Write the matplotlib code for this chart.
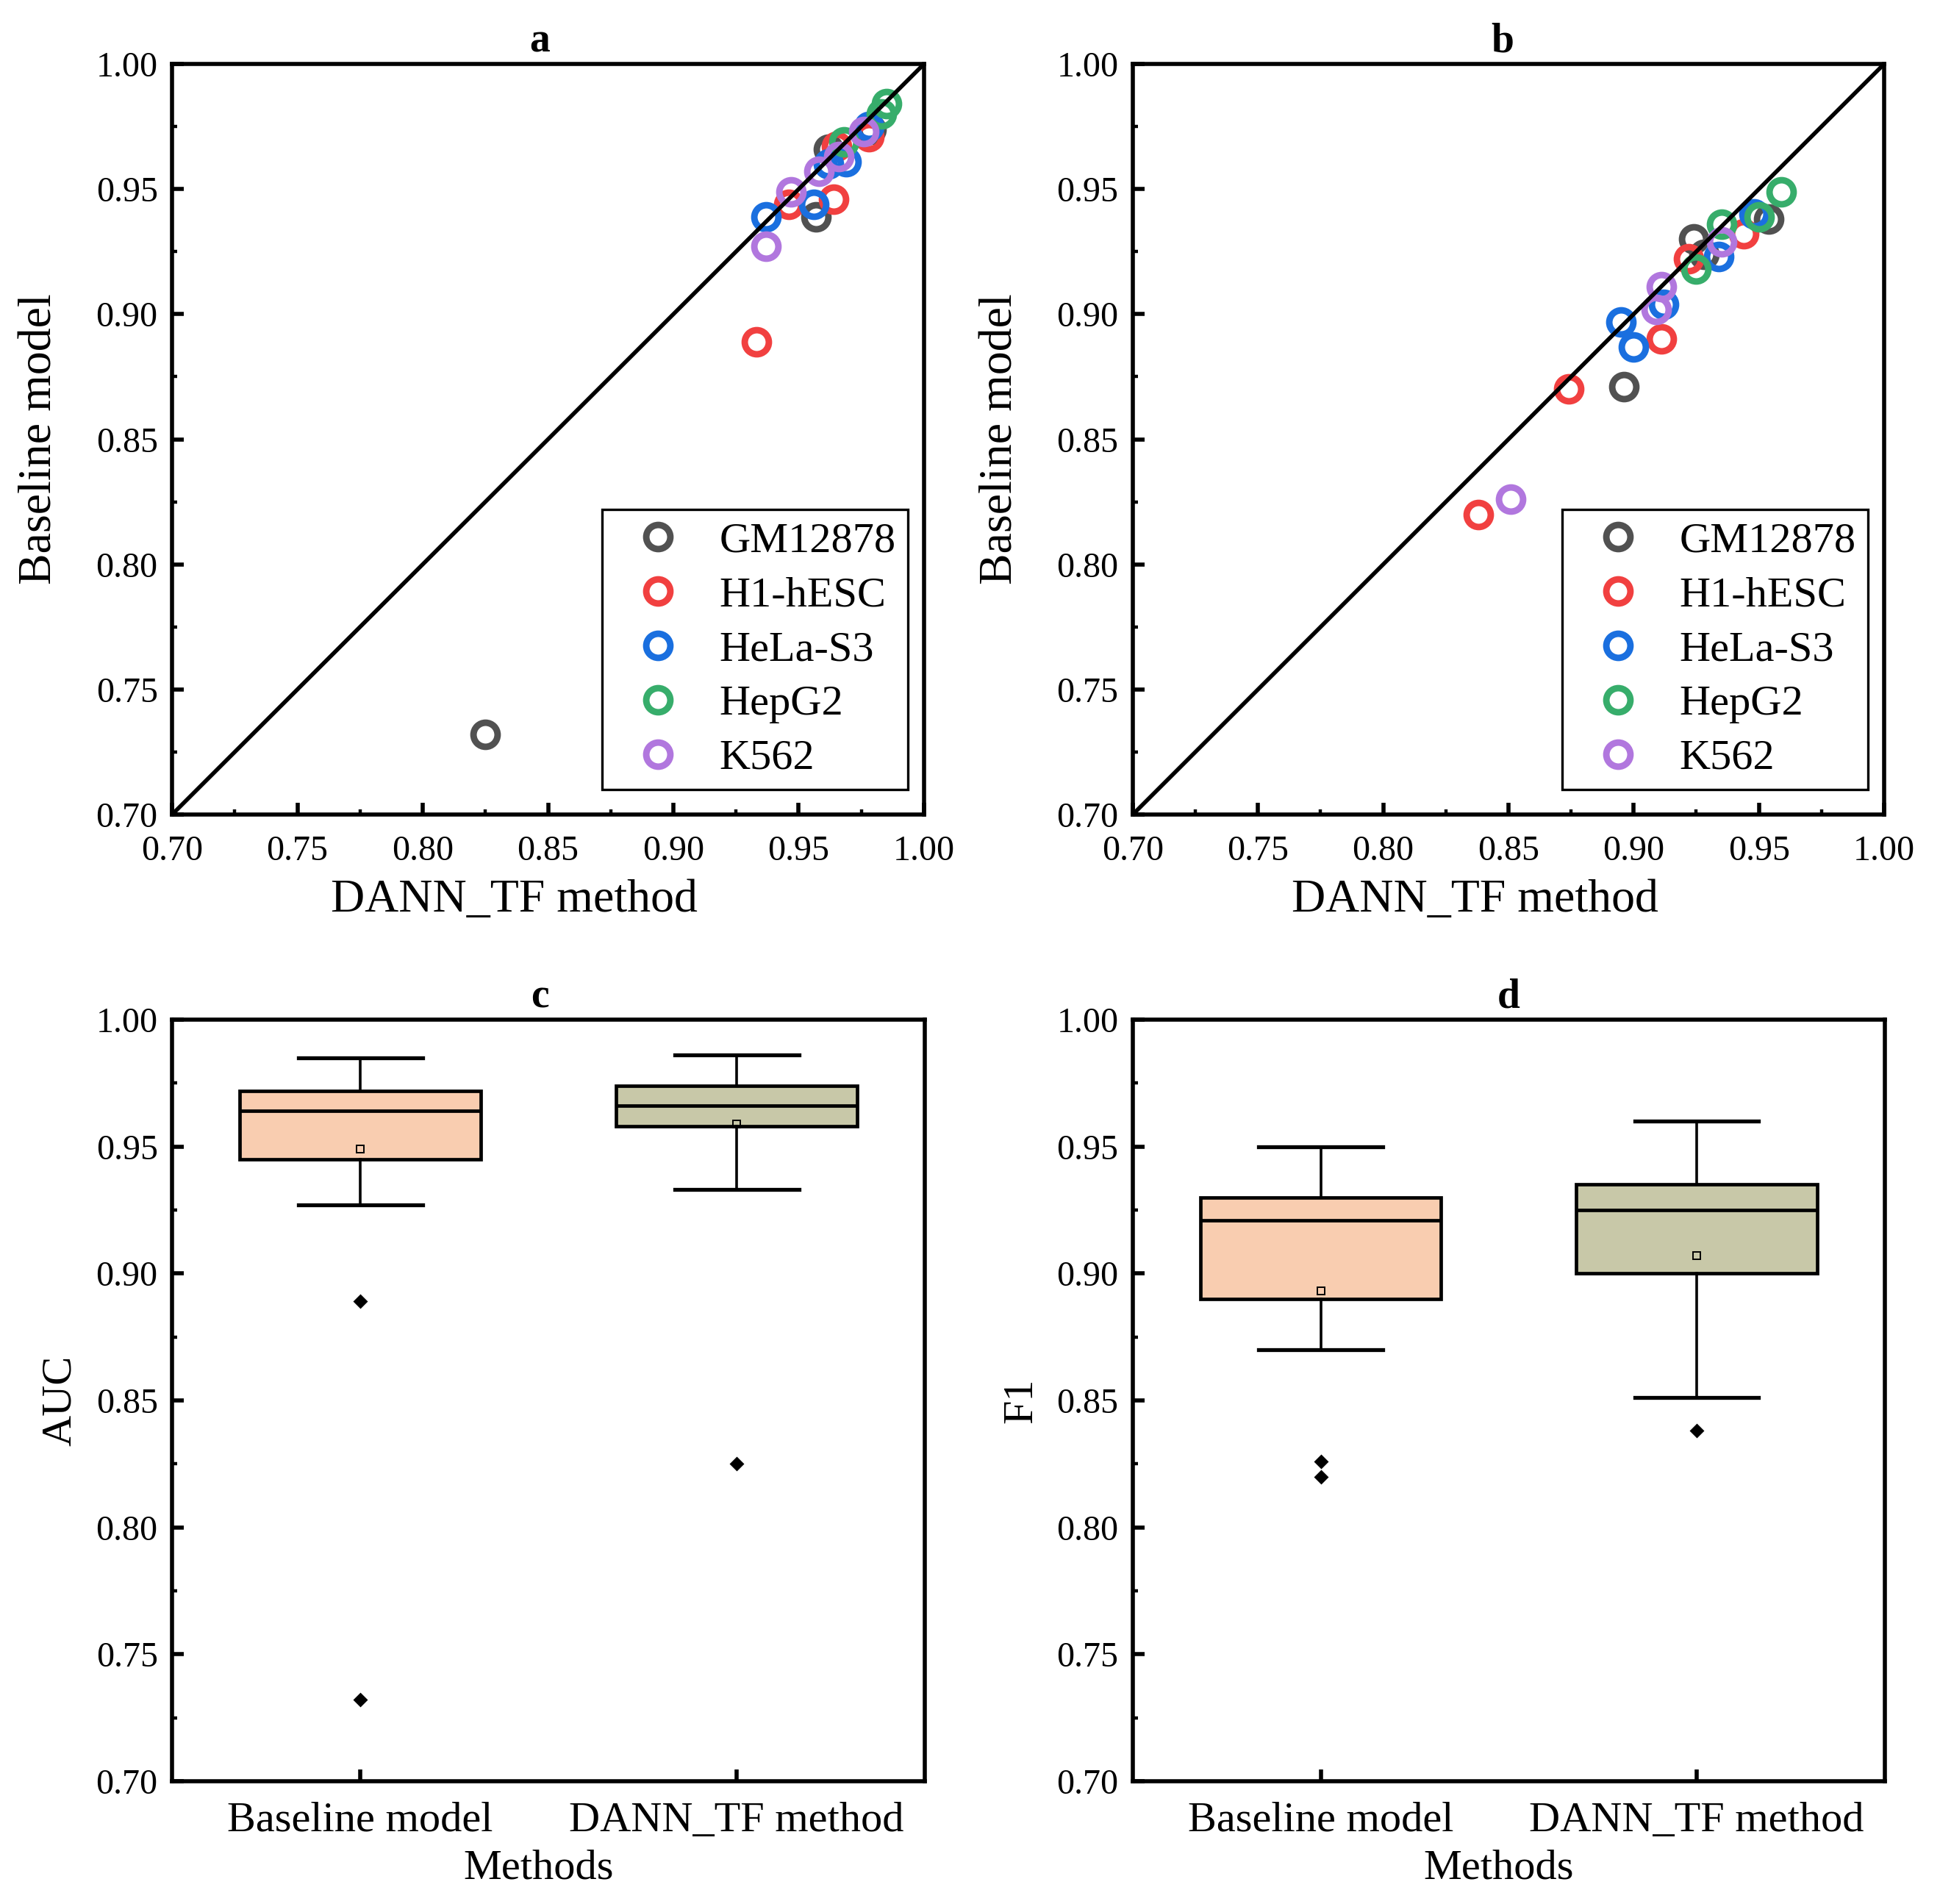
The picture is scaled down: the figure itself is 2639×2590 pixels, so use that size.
import numpy as np
import matplotlib
matplotlib.use('Agg')
import matplotlib.pyplot as plt
from matplotlib.ticker import MultipleLocator, FormatStrFormatter

plt.rcParams['font.family'] = ['Liberation Serif', 'DejaVu Serif']

# ---- data ----
cell_lines = ['GM12878', 'H1-hESC', 'HeLa-S3', 'HepG2', 'K562']
colors = ['#515151', '#F14040', '#1A6FDF', '#37AD6B', '#B177DE']

# panel a: AUC, x = DANN_TF method, y = Baseline model
auc_dann = {
    'GM12878': [0.979, 0.962, 0.957, 0.825],
    'H1-hESC': [0.978, 0.965, 0.946, 0.964, 0.933],
    'HeLa-S3': [0.978, 0.969, 0.962, 0.937, 0.956],
    'HepG2': [0.985, 0.983, 0.968],
    'K562': [0.976, 0.958, 0.966, 0.947, 0.937],
}
auc_base = {
    'GM12878': [0.974, 0.966, 0.939, 0.732],
    'H1-hESC': [0.971, 0.967, 0.944, 0.946, 0.889],
    'HeLa-S3': [0.975, 0.961, 0.960, 0.939, 0.944],
    'HepG2': [0.984, 0.980, 0.969],
    'K562': [0.973, 0.957, 0.963, 0.949, 0.927],
}

# panel b: F1
f1_dann = {
    'GM12878': [0.954, 0.924, 0.928, 0.896],
    'H1-hESC': [0.944, 0.922, 0.911, 0.874, 0.838],
    'HeLa-S3': [0.948, 0.934, 0.912, 0.895, 0.900],
    'HepG2': [0.959, 0.950, 0.935, 0.925],
    'K562': [0.935, 0.911, 0.909, 0.851],
}
f1_base = {
    'GM12878': [0.938, 0.930, 0.924, 0.871],
    'H1-hESC': [0.932, 0.922, 0.890, 0.870, 0.820],
    'HeLa-S3': [0.940, 0.923, 0.904, 0.897, 0.887],
    'HepG2': [0.949, 0.939, 0.936, 0.918],
    'K562': [0.929, 0.911, 0.902, 0.826],
}

# panels c, d: box statistics (whisker low, Q1, median, Q3, whisker high, mean, outliers)
methods = ['Baseline model', 'DANN_TF method']
box_colors = ['#F9CDB0', '#C8C8A8']
auc_whislo = [0.927, 0.933]
auc_q1 = [0.945, 0.958]
auc_med = [0.964, 0.966]
auc_q3 = [0.972, 0.974]
auc_whishi = [0.985, 0.986]
auc_mean = [0.949, 0.959]
auc_fliers = [[0.889, 0.732], [0.825]]

f1_whislo = [0.870, 0.851]
f1_q1 = [0.890, 0.900]
f1_med = [0.921, 0.925]
f1_q3 = [0.930, 0.935]
f1_whishi = [0.950, 0.960]
f1_mean = [0.893, 0.907]
f1_fliers = [[0.826, 0.820], [0.838]]

lims = [0.70, 1.00]

TICK_FS = 17.3
SPINE_LW = 2.0


def style_axes(ax):
    for sp in ax.spines.values():
        sp.set_linewidth(SPINE_LW)
    ax.tick_params(which='major', direction='in', length=5.8, width=2.0,
                   labelsize=TICK_FS, top=False, right=False)
    ax.tick_params(which='minor', direction='in', length=2.6, width=1.6,
                   top=False, right=False)
    ax.tick_params(axis='x', which='major', pad=10)
    ax.tick_params(axis='y', which='major', pad=7)
    ax.set_ylim(lims)
    ax.yaxis.set_major_locator(MultipleLocator(0.05))
    ax.yaxis.set_minor_locator(MultipleLocator(0.025))
    ax.yaxis.set_major_formatter(FormatStrFormatter('%.2f'))


def scatter_panel(ax, xs, ys, title, title_x):
    style_axes(ax)
    for name, c in zip(cell_lines, colors):
        ax.plot(xs[name], ys[name], ls='none', marker='o', ms=11.8,
                mfc='none', mec=c, mew=3.2, label=name, zorder=3)
    ax.plot(lims, lims, color='black', lw=2.0, zorder=5)
    ax.set_xlim(lims)
    ax.xaxis.set_major_locator(MultipleLocator(0.05))
    ax.xaxis.set_minor_locator(MultipleLocator(0.025))
    ax.xaxis.set_major_formatter(FormatStrFormatter('%.2f'))
    ax.set_xlabel('DANN_TF method', fontsize=23, labelpad=6)
    ax.xaxis.label.set_x(0.455)
    ax.set_ylabel('Baseline model', fontsize=23, labelpad=17)
    ax.set_title(title, fontsize=20, fontweight='bold', pad=6, x=title_x)
    leg = ax.legend(loc='lower right', bbox_to_anchor=(0.9785, 0.033),
                    borderaxespad=0, fontsize=21, frameon=True,
                    fancybox=False, framealpha=1, edgecolor='black',
                    borderpad=0.28, handlelength=2.04, handletextpad=0.41,
                    labelspacing=0.36)
    leg.get_frame().set_linewidth(1.2)


def box_panel(ax, whislo, q1, med, q3, whishi, mean, fliers, ylabel, title,
              title_x):
    style_axes(ax)
    stats = []
    for i in range(len(methods)):
        stats.append({'whislo': whislo[i], 'q1': q1[i], 'med': med[i],
                      'q3': q3[i], 'whishi': whishi[i], 'mean': mean[i],
                      'fliers': fliers[i], 'label': methods[i]})
    bp = ax.bxp(stats, positions=[1, 2], widths=0.64, capwidths=0.33,
                patch_artist=True, showmeans=True,
                boxprops=dict(linewidth=1.7, edgecolor='black'),
                medianprops=dict(linewidth=1.7, color='black'),
                whiskerprops=dict(linewidth=1.3, color='black'),
                capprops=dict(linewidth=1.9, color='black'),
                flierprops=dict(marker='D', ms=4.2, mfc='black', mec='black'),
                meanprops=dict(marker='s', ms=3.6, mfc='none', mec='black',
                               mew=0.7))
    for patch, c in zip(bp['boxes'], box_colors):
        patch.set_facecolor(c)
    ax.set_xlim(0.5, 2.5)
    ax.tick_params(axis='x', which='major', labelsize=21)
    ax.set_xlabel('Methods', fontsize=21, labelpad=4.5)
    ax.xaxis.label.set_x(0.487)
    ax.set_ylabel(ylabel, fontsize=21, labelpad=8)
    ax.set_title(title, fontsize=20, fontweight='bold', pad=6, x=title_x)


fig = plt.figure(figsize=(2639 / 200, 2590 / 200), dpi=200)
ax_a = fig.add_axes([0.0887, 0.5722, 0.3876, 0.3942])
ax_b = fig.add_axes([0.5839, 0.5722, 0.3873, 0.3942])
ax_c = fig.add_axes([0.0887, 0.0645, 0.3880, 0.4000])
ax_d = fig.add_axes([0.5839, 0.0645, 0.3876, 0.4000])

scatter_panel(ax_a, auc_dann, auc_base, 'a', 0.489)
scatter_panel(ax_b, f1_dann, f1_base, 'b', 0.492)
box_panel(ax_c, auc_whislo, auc_q1, auc_med, auc_q3, auc_whishi, auc_mean,
          auc_fliers, 'AUC', 'c', 0.489)
box_panel(ax_d, f1_whislo, f1_q1, f1_med, f1_q3, f1_whishi, f1_mean,
          f1_fliers, 'F1', 'd', 0.50)

fig.savefig('out.png', dpi=200)
